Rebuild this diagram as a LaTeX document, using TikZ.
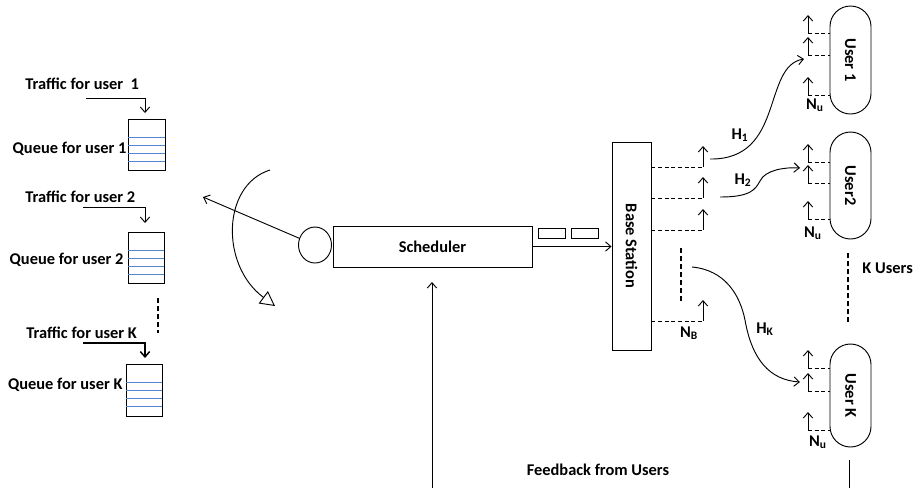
\documentclass[tikz,border=0pt]{standalone}
\usepackage{fontspec}
\setmainfont{Carlito}
\usetikzlibrary{arrows.meta,shapes.geometric,shapes.misc}
\definecolor{qblue}{RGB}{84,132,205}
\begin{document}
\begin{tikzpicture}[x=0.75pt,y=-0.75pt, line width=0.7pt,
  arr/.style={-{Straight Barb[length=4pt,width=7pt]}},
  lbl/.style={inner sep=0pt, font=\fontsize{12.3}{14}\selectfont\bfseries},
  box/.style={draw, inner sep=0pt},
  dsh/.style={dash pattern=on 3pt off 2pt, line width=0.6pt},
  vdots/.style={dash pattern=on 4pt off 2pt, line width=1pt},
  qline/.style={qblue, line width=0.9pt},
  usr/.style={draw, rounded rectangle, rotate=-90, minimum height=30.75pt, lbl}]
\useasboundingbox (0,0) rectangle (921,487);

% ---------- queues ----------
\node[box, minimum width=27.75pt, minimum height=38.25pt] (q1) at (146.5,144.5) {};
\node[box, minimum width=27pt, minimum height=38.25pt] (q2) at (146,257.5) {};
\node[box, minimum width=27pt, minimum height=39pt] (qK) at (144,390) {};
\foreach \q in {q1,q2,qK}{
  \foreach \d in {19,27,35,43}{
    \draw[qline] ([yshift=-\d*0.75pt]\q.north west) -- ([yshift=-\d*0.75pt]\q.north east);
  }
}

\node[lbl, anchor=west] (tr1) at (25,84) {Traffic for user\ \ 1};
\node[lbl, anchor=east] (ql1) at (127,149) {Queue for user 1};
\node[lbl, anchor=west] (tr2) at (25,197) {Traffic for user 2};
\node[lbl, anchor=east] (ql2) at (124,260) {Queue for user 2};
\node[lbl, anchor=west] (trK) at (26,333) {Traffic for user K};
\node[lbl, anchor=east] (qlK) at (123,385) {Queue for user K};

\coordinate (t1s) at (86,98);  \coordinate (t1e) at (145,113);
\coordinate (t2s) at (83,207); \coordinate (t2e) at (145,223);
\coordinate (tKs) at (83,343); \coordinate (tKe) at (145,358);
\draw[arr] (t1s) -| (t1e);
\draw[arr] (t2s) -| (t2e);
\draw[arr, line width=1.1pt] (tKs) -| (tKe);

\coordinate (qd1) at (158,298); \coordinate (qd2) at (158,333);
\draw[vdots] (qd1) -- (qd2);

% ---------- scheduler ----------
\node[draw, ellipse, minimum width=24.75pt, minimum height=27pt, inner sep=0pt] (circ) at (315,245) {};
\node[box, lbl, minimum width=149.25pt, minimum height=30.75pt] (sch) at (432.5,246.5) {Scheduler};
\node[box, minimum width=20.25pt, minimum height=7.5pt] (p1) at (551.5,233) {};
\node[box, minimum width=20.25pt, minimum height=7.5pt] (p2) at (585,233) {};

\coordinate (rotend) at (203,197);
\draw[arr] (circ) -- (rotend);
\coordinate (arcS) at (270,170); \coordinate (arcE) at (275,306);
\draw[-{Triangle[open,length=11pt,width=11.5pt]}] (arcS) .. controls (222,185) and (220,265) .. (arcE);

\coordinate (fbB) at (432,490); \coordinate (fbT) at (432,282);
\draw[arr] (fbB) -- (fbT);
\node[lbl] (fbtxt) at (598,470) {Feedback from Users};

% ---------- base station ----------
\node[box, minimum width=29.25pt, minimum height=156pt] (bs) at (631.5,246) {};
\node[lbl, rotate=-90] (bstxt) at (bs.center) {Base Station};
\draw[arr] (sch.east) -- (sch.east -| bs.west);

\foreach \y/\n in {167/1,198/2,230/3,321/4}{
  \coordinate (ba\n) at (703,\y);
  \draw[dsh] (ba\n -| bs.east) -- (ba\n);
  \draw[arr] (ba\n) -- ++(0,-21);
}
\coordinate (bd1) at (681,248); \coordinate (bd2) at (681,301);
\draw[vdots] (bd1) -- (bd2);
\node[lbl] (nb) at (689,333) {N\textsubscript{B}};

% ---------- users ----------
\node[usr, minimum width=81pt] (u1) at (850.5,60) {User 1};
\node[usr, minimum width=80.25pt] (u2) at (850.5,185.5) {User2};
\node[usr, minimum width=77.25pt] (uK) at (850.5,395.5) {User K};

\foreach \u/\ya/\yb/\yc in {u1/33/55/95, u2/162/183/219, uK/368/391/430}{
  \foreach \y/\m in {\ya/a,\yb/b,\yc/c}{
    \coordinate (\u\m) at (808,\y);
    \draw[dsh] (\u\m) -- (\u\m -| \u.south);
    \draw[arr] (\u\m) -- ++(0,-18);
  }
}
\node[lbl] (nu1) at (815,105) {N\textsubscript{u}};
\node[lbl] (nu2) at (813,233) {N\textsubscript{u}};
\node[lbl] (nuK) at (818,442) {N\textsubscript{u}};

\coordinate (ud1) at (848,253); \coordinate (ud2) at (848,322);
\draw[vdots] (ud1) -- (ud2);
\node[lbl, anchor=west] (kus) at (862,268) {K Users};

\coordinate (ukb1) at (849,460); \coordinate (ukb2) at (849,490);
\draw (ukb1) -- (ukb2);

% ---------- channels ----------
\coordinate (h1s) at (710,159); \coordinate (h1e) at (804,59);
\draw[arr] (h1s) .. controls (785,160) and (762,66) .. (h1e);
\node[lbl] (h1) at (740,135) {H\textsubscript{1}};

\coordinate (h2s) at (720,197); \coordinate (h2m) at (760,181); \coordinate (h2e) at (800,168);
\draw[arr] (h2s) .. controls (750,197) and (755,190) .. (h2m) .. controls (765,170) and (785,167) .. (h2e);
\node[lbl] (h2) at (743,180) {H\textsubscript{2}};

\coordinate (hKs) at (692,267); \coordinate (hKm) at (745,320); \coordinate (hKe) at (800,382);
\draw[arr] (hKs) .. controls (725,270) and (740,295) .. (hKm) .. controls (752,360) and (770,380) .. (hKe);
\node[lbl] (hK) at (765,329) {H\textsubscript{K}};
\end{tikzpicture}
\end{document}
